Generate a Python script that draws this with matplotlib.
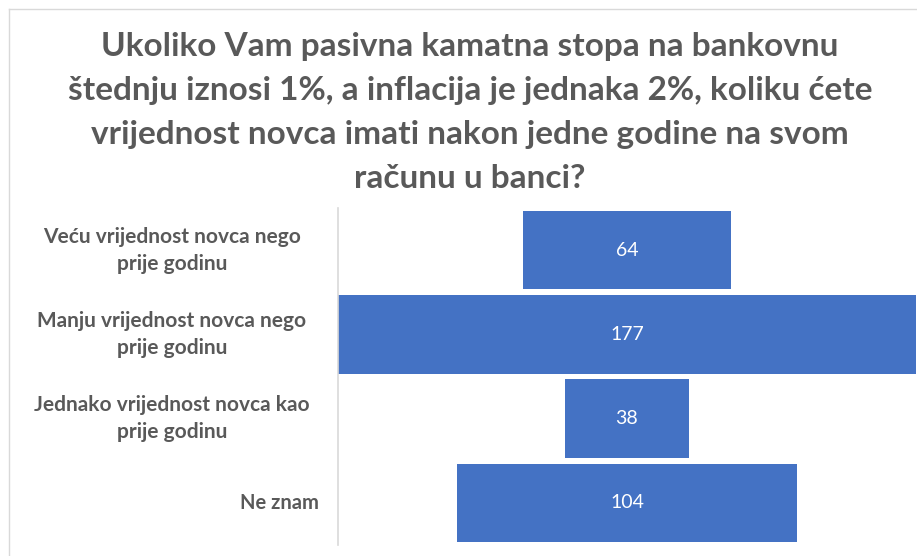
import matplotlib.pyplot as plt
from matplotlib.transforms import blended_transform_factory

# data
categories = ["Veću vrijednost novca nego\nprije godinu",
              "Manju vrijednost novca nego\nprije godinu",
              "Jednako vrijednost novca kao\nprije godinu",
              "Ne znam"]
values = [64, 177, 38, 104]
title_lines = ["Ukoliko Vam pasivna kamatna stopa na bankovnu",
               "štednju iznosi 1%, a inflacija je jednaka 2%, koliku ćete",
               "vrijednost novca imati nakon jedne godine na svom",
               "računu u banci?"]

plt.rcParams['font.family'] = ['Lato', 'DejaVu Sans']
W, H = 917, 556
fig = plt.figure(figsize=(W / 100, H / 100), dpi=100)

# plot area in pixels
x0, x1, y0, y1 = 338, 916, 208, 545
ax = fig.add_axes([x0 / W, 1 - y1 / H, (x1 - x0) / W, (y1 - y0) / H])

ypos = list(range(len(values)))
lefts = [-v / 2 for v in values]
ax.barh(ypos, values, left=lefts, height=0.93, color="#4472C4")
for y, v in zip(ypos, values):
    ax.text(0, y, str(v), ha="center", va="center", color="white", fontsize=14)

m = max(values) / 2
ax.set_xlim(-m, m)
ax.set_ylim(len(values) - 0.5, -0.5)
ax.set_xticks([])
ax.set_yticks(ypos)
ax.set_yticklabels([])
ax.tick_params(axis="y", length=0)
for s in ["top", "right", "bottom"]:
    ax.spines[s].set_visible(False)
ax.spines["left"].set_color("#D9D9D9")
ax.spines["left"].set_linewidth(1.2)

# category labels: wrapped ones centred in a box, single line right-aligned
tr = blended_transform_factory(fig.transFigure, ax.transData)
for y, c in zip(ypos, categories):
    if "\n" in c:
        ax.text(172 / W, y, c, transform=tr, ha="center", va="center",
                fontsize=15, fontweight="bold", color="#595959", linespacing=1.45)
    else:
        ax.text(319 / W, y, c, transform=tr, ha="right", va="center",
                fontsize=14.5, fontweight="bold", color="#595959")

# title, one line at a time (baselines in pixels)
for i, line in enumerate(title_lines):
    fig.text(470 / W, 1 - (56 + 44 * i) / H, line, ha="center", va="baseline",
             fontsize=24, fontweight="bold", color="#595959")

# chart border (top/left visible)
fig.add_artist(plt.Line2D([9 / W, 1], [1 - 9 / H, 1 - 9 / H], color="#D9D9D9", lw=1))
fig.add_artist(plt.Line2D([9 / W, 9 / W], [0, 1 - 9 / H], color="#D9D9D9", lw=1))

fig.savefig("out.png", dpi=100)
